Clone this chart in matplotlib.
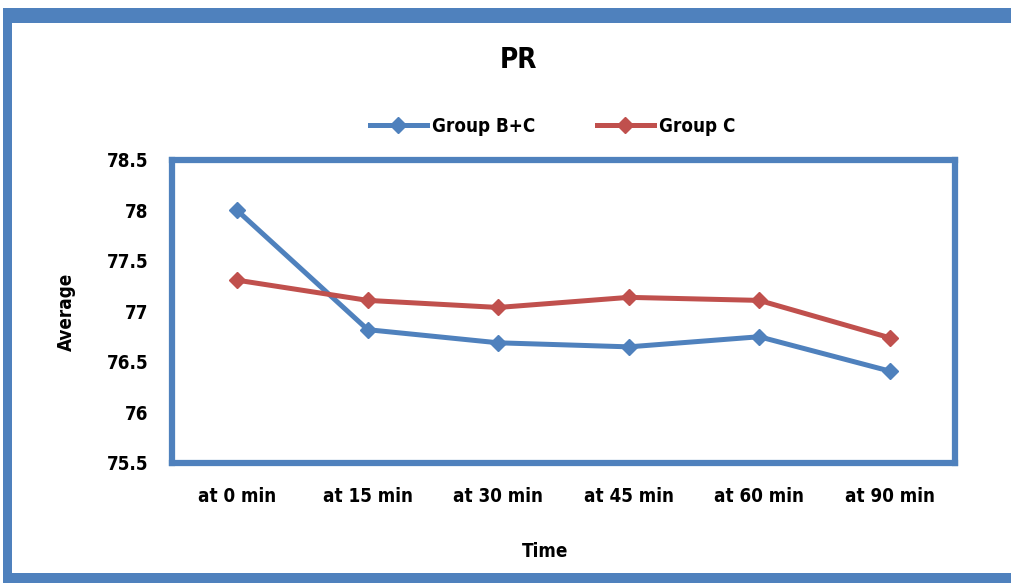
import numpy as np
import matplotlib.pyplot as plt
from matplotlib.patches import Rectangle

plt.rcParams['font.family'] = ['DejaVu Sans']
plt.rcParams['font.stretch'] = 'condensed'
plt.rcParams['font.weight'] = 'bold'
plt.rcParams['axes.labelweight'] = 'bold'

# PR averages per time point
times = ['at 0 min', 'at 15 min', 'at 30 min', 'at 45 min', 'at 60 min', 'at 90 min']
group_bc = [78.0, 76.82, 76.69, 76.65, 76.75, 76.41]
group_c = [77.31, 77.11, 77.04, 77.14, 77.11, 76.74]

BLUE = '#4F81BD'
RED = '#C0504D'

fig = plt.figure(figsize=(10.12, 5.83), dpi=100)
W, H = 1012.0, 583.0

# outer chart frame (bands in pixel units)
for x0, y0, w, h in [(3, 0, 9, 575), (3, 560, 1009, 15), (3, 0, 1009, 10)]:
    fig.add_artist(Rectangle((x0 / W, y0 / H), w / W, h / H, transform=fig.transFigure,
                             facecolor=BLUE, edgecolor='none'))

ax = fig.add_axes([172 / W, 120 / H, 783 / W, 303 / H])
x = np.arange(len(times))
ax.plot(x, group_bc, color=BLUE, lw=3.6, marker='D', ms=8, label='Group B+C')
ax.plot(x, group_c, color=RED, lw=3.6, marker='D', ms=8, label='Group C')

ax.set_xlim(-0.5, len(times) - 0.5)
ax.set_ylim(75.5, 78.5)
ax.set_yticks(np.arange(75.5, 78.51, 0.5))
ax.set_yticklabels(['75.5', '76', '76.5', '77', '77.5', '78', '78.5'])
ax.set_xticks(x)
ax.set_xticklabels(times)
ax.tick_params(axis='both', length=0, labelsize=13.5)
ax.tick_params(axis='y', pad=17)
ax.tick_params(axis='x', pad=17)
for s in ax.spines.values():
    s.set_color(BLUE)
    s.set_linewidth(4.5)

ax.set_xlabel('Time', fontsize=13.5)
ax.xaxis.set_label_coords(0.477, -0.262)
ax.set_ylabel('Average', fontsize=13.5, labelpad=22)

fig.text(518 / W, 1 - 60 / H, 'PR', ha='center', va='center', fontsize=20, fontweight='bold')
fig.legend(loc='center', bbox_to_anchor=(553 / W, 1 - 126 / H), ncol=2, frameon=False,
           fontsize=13.5, handlelength=3.0, columnspacing=3.3, handletextpad=0.3)

fig.savefig('out.png', dpi=100)
